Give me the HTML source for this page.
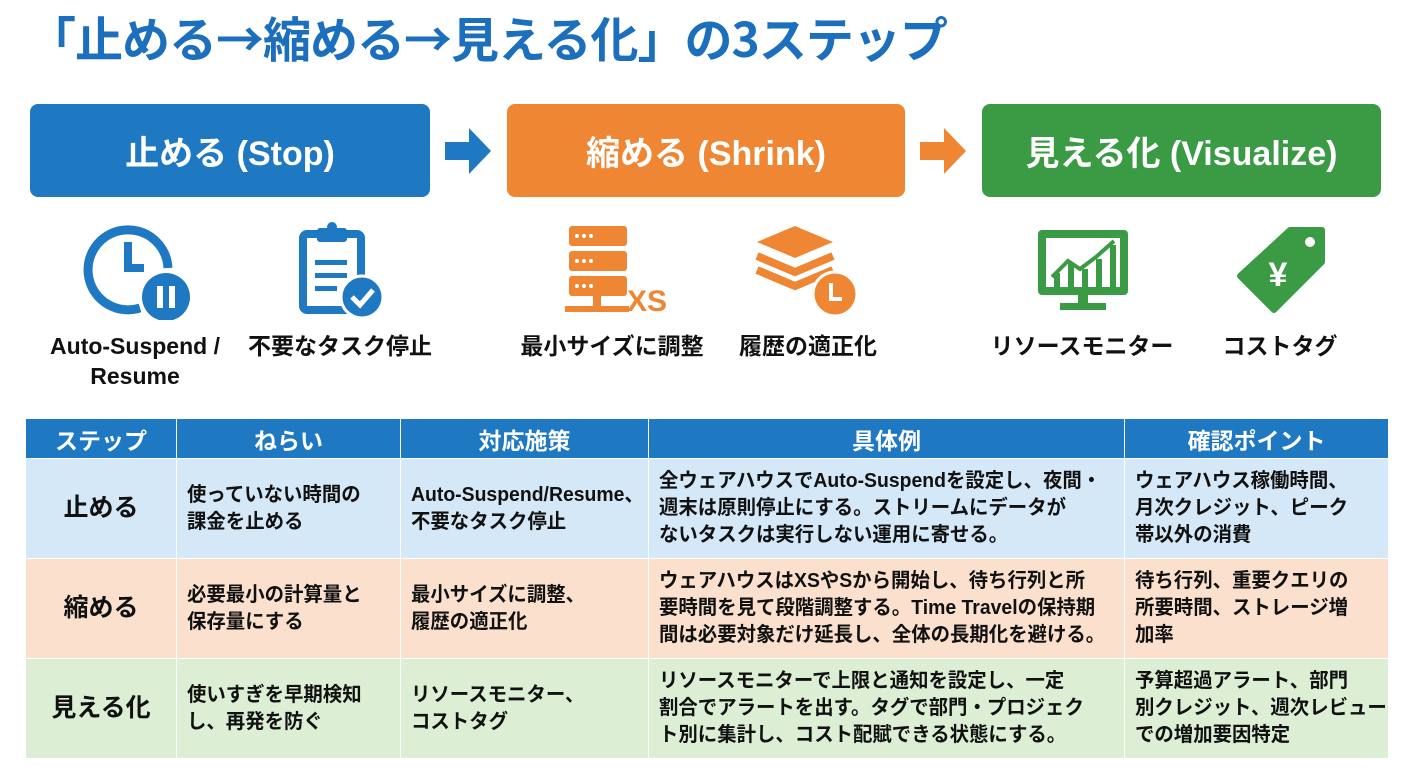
<!DOCTYPE html>
<html><head><meta charset="utf-8"><style>
*{margin:0;padding:0;box-sizing:border-box}
body{width:1408px;height:768px;background:#fff;font-family:"Liberation Sans","Noto Sans CJK JP",sans-serif;position:relative;overflow:hidden}
.a{position:absolute}
.title{left:28px;top:4px;font-family:"Noto Sans CJK JP",sans-serif;font-size:48px;line-height:64px;font-weight:700;color:#1b6fbd;letter-spacing:-1px;white-space:nowrap}
.box{position:absolute;top:104px;height:93px;border-radius:8px;color:#fff;font-size:34px;font-weight:700;display:flex;align-items:center;justify-content:center;white-space:nowrap}
.lbl{position:absolute;font-size:23px;font-weight:700;color:#111;text-align:center;white-space:nowrap;line-height:30px;transform:translateX(-50%)}
table{position:absolute;left:25px;top:418px;border-collapse:collapse;width:1363px;table-layout:fixed}
td,th{border:1.5px solid #fff;font-weight:700;white-space:nowrap;vertical-align:middle}
th{background:#1e78c2;color:#fff;font-size:23px;height:40px}
td{height:100px;font-size:20px;line-height:27px;color:#111;padding-left:10px;overflow:hidden}
td.s{text-align:center;font-size:25px;padding:0}
.c{display:inline-block;transform:scaleX(.97);transform-origin:left center}
.r1 td{background:#d4e8f8}.r2 td{background:#fbe1cd}.r3 td{background:#dcefd5}
</style></head><body>
<div class="a title">「止める→縮める→見える化」の3ステップ</div>
<div class="box" style="left:30px;width:400px;background:#1e78c2">止める (Stop)</div>
<div class="box" style="left:507px;width:398px;background:#ef8633">縮める (Shrink)</div>
<div class="box" style="left:982px;width:399px;background:#3b9b45">見える化 (Visualize)</div>
<svg class="a" style="left:445px;top:128px" width="48" height="46"><polygon points="0,14 24,14 24,0 46,23 24,46 24,32 0,32" fill="#1e78c2"/></svg>
<svg class="a" style="left:920px;top:128px" width="48" height="46"><polygon points="0,14 24,14 24,0 46,23 24,46 24,32 0,32" fill="#ef8633"/></svg>
<svg class="a" style="left:80px;top:220px" width="120" height="100">
<path d="M88,48 A40,40 0 1 0 60,88" fill="none" stroke="#1e78c2" stroke-width="9"/>
<path d="M48,22 V48 H64" fill="none" stroke="#1e78c2" stroke-width="8"/>
<circle cx="86" cy="77" r="24" fill="#1e78c2"/><rect x="77" y="66" width="6" height="22" fill="#fff"/><rect x="89" y="66" width="6" height="22" fill="#fff"/></svg>
<svg class="a" style="left:295px;top:220px" width="100" height="100">
<rect x="8" y="14" width="58" height="76" rx="4" fill="none" stroke="#1e78c2" stroke-width="8"/>
<rect x="22" y="8" width="30" height="14" rx="3" fill="#1e78c2"/><circle cx="37" cy="7" r="5" fill="#1e78c2"/>
<rect x="20" y="40" width="32" height="5" fill="#1e78c2"/><rect x="20" y="53" width="32" height="5" fill="#1e78c2"/><rect x="20" y="66" width="22" height="5" fill="#1e78c2"/>
<circle cx="67" cy="77" r="21" fill="#1e78c2" stroke="#fff" stroke-width="3"/><path d="M57,77 L65,85 L78,70" fill="none" stroke="#fff" stroke-width="5"/></svg>
<svg class="a" style="left:565px;top:222px" width="110" height="95">
<rect x="4" y="4" width="58" height="20" rx="3" fill="#ef8633"/><rect x="4" y="29" width="58" height="20" rx="3" fill="#ef8633"/><rect x="4" y="54" width="58" height="20" rx="3" fill="#ef8633"/>
<g fill="#fff"><circle cx="12" cy="14" r="2"/><circle cx="19" cy="14" r="2"/><circle cx="26" cy="14" r="2"/><circle cx="12" cy="39" r="2"/><circle cx="19" cy="39" r="2"/><circle cx="26" cy="39" r="2"/><circle cx="12" cy="64" r="2"/><circle cx="19" cy="64" r="2"/><circle cx="26" cy="64" r="2"/></g>
<rect x="28" y="74" width="8" height="12" fill="#ef8633"/><rect x="0" y="84" width="64" height="6" fill="#ef8633"/>
<text x="62" y="89" font-family="Liberation Sans" font-weight="700" font-size="30" fill="#ef8633">XS</text></svg>
<svg class="a" style="left:755px;top:222px" width="110" height="100">
<polygon points="40,4 78,20 40,36 2,20" fill="#ef8633"/>
<polyline points="2,34 40,50 78,34" fill="none" stroke="#ef8633" stroke-width="8"/>
<polyline points="2,48 40,64 78,48" fill="none" stroke="#ef8633" stroke-width="8"/>
<circle cx="80" cy="72" r="22" fill="#ef8633" stroke="#fff" stroke-width="3"/><path d="M76,61 V77 H87" fill="none" stroke="#fff" stroke-width="4"/></svg>
<svg class="a" style="left:1030px;top:225px" width="110" height="90">
<rect x="8" y="5" width="90" height="65" rx="4" fill="#3b9b45"/><rect x="16" y="13" width="74" height="49" fill="#fff"/>
<polyline points="22,52 38,36 50,44 66,32 84,16" fill="none" stroke="#3b9b45" stroke-width="4"/>
<rect x="24" y="48" width="6" height="14" fill="#3b9b45"/><rect x="38" y="38" width="6" height="24" fill="#3b9b45"/><rect x="52" y="44" width="6" height="18" fill="#3b9b45"/><rect x="66" y="34" width="6" height="28" fill="#3b9b45"/><rect x="80" y="20" width="6" height="42" fill="#3b9b45"/>
<rect x="48" y="70" width="10" height="8" fill="#3b9b45"/><rect x="30" y="78" width="46" height="7" fill="#3b9b45"/></svg>
<svg class="a" style="left:1230px;top:222px" width="100" height="95">
<path d="M60,8 L92,8 L92,40 L44,88 L10,54 Z" fill="#3b9b45" stroke="#3b9b45" stroke-width="6" stroke-linejoin="round"/>
<circle cx="80" cy="20" r="5" fill="#fff"/>
<text x="48" y="64" text-anchor="middle" font-family="Liberation Sans" font-weight="700" font-size="34" fill="#fff">¥</text></svg>
<div class="lbl" style="left:135px;top:331px">Auto-Suspend /<br>Resume</div>
<div class="lbl" style="left:340px;top:331px">不要なタスク停止</div>
<div class="lbl" style="left:612px;top:331px">最小サイズに調整</div>
<div class="lbl" style="left:808px;top:331px">履歴の適正化</div>
<div class="lbl" style="left:1082px;top:331px">リソースモニター</div>
<div class="lbl" style="left:1280px;top:331px">コストタグ</div>
<table>
<colgroup><col style="width:151px"><col style="width:224px"><col style="width:248px"><col style="width:476px"><col style="width:264px"></colgroup>
<tr><th>ステップ</th><th>ねらい</th><th>対応施策</th><th>具体例</th><th>確認ポイント</th></tr>
<tr class="r1"><td class="s">止める</td><td><span class="c">使っていない時間の<br>課金を止める</span></td><td><span class="c">Auto-Suspend/Resume、<br>不要なタスク停止</span></td><td><span class="c">全ウェアハウスでAuto-Suspendを設定し、夜間・<br>週末は原則停止にする。ストリームにデータが<br>ないタスクは実行しない運用に寄せる。</span></td><td><span class="c">ウェアハウス稼働時間、<br>月次クレジット、ピーク<br>帯以外の消費</span></td></tr>
<tr class="r2"><td class="s">縮める</td><td><span class="c">必要最小の計算量と<br>保存量にする</span></td><td><span class="c">最小サイズに調整、<br>履歴の適正化</span></td><td><span class="c">ウェアハウスはXSやSから開始し、待ち行列と所<br>要時間を見て段階調整する。Time Travelの保持期<br>間は必要対象だけ延長し、全体の長期化を避ける。</span></td><td><span class="c">待ち行列、重要クエリの<br>所要時間、ストレージ増<br>加率</span></td></tr>
<tr class="r3"><td class="s">見える化</td><td><span class="c">使いすぎを早期検知<br>し、再発を防ぐ</span></td><td><span class="c">リソースモニター、<br>コストタグ</span></td><td><span class="c">リソースモニターで上限と通知を設定し、一定<br>割合でアラートを出す。タグで部門・プロジェク<br>ト別に集計し、コスト配賦できる状態にする。</span></td><td><span class="c">予算超過アラート、部門<br>別クレジット、週次レビュー<br>での増加要因特定</span></td></tr>
</table>
</body></html>
